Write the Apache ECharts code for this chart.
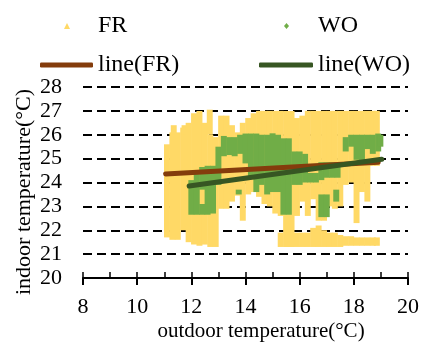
<!DOCTYPE html>
<html><head><meta charset="utf-8">
<script src="https://cdn.jsdelivr.net/npm/echarts@6/dist/echarts.min.js"></script>
<style>html,body{margin:0;padding:0;background:#fff}#c{width:427px;height:345px}</style>
</head><body><div id="c"></div>
<script>
// x-axis ticks and y-axis ticks
const xTicks = [8, 10, 12, 14, 16, 18, 20];
const yTicks = [20, 21, 22, 23, 24, 25, 26, 27, 28];
const seriesNames = ['FR', 'WO', 'line(FR)', 'line(WO)'];
const xTitle = 'outdoor temperature(°C)';
const yTitle = 'indoor temperature(°C)';

// FR scatter cloud, read as vertical streaks: [outdoor temp, lowest indoor, highest indoor]
const frStreaks = [
  [11.1, 21.7, 25.6], [11.3, 21.6, 26.1], [11.35, 26.0, 26.4], [11.5, 21.6, 26.1], [11.7, 22.0, 26.3],
  [11.75, 26.0, 26.4], [11.9, 21.5, 26.5], [12.1, 21.4, 26.9], [12.3, 21.35, 27.0], [12.5, 21.4, 26.5],
  [12.7, 21.3, 26.0], [12.68, 26.0, 27.05], [12.9, 21.3, 25.9], [13.1, 22.9, 26.8], [13.3, 22.9, 26.8],
  [13.5, 23.2, 26.4], [13.7, 23.45, 26.1], [13.9, 22.4, 26.5], [14.1, 23.5, 26.7],
  [14.3, 23.6, 26.9], [14.5, 23.4, 27.0], [14.7, 23.1, 27.0], [14.9, 23.0, 27.0],
  [15.1, 22.7, 27.0], [15.3, 22.6, 27.0], [15.3, 21.3, 21.9], [15.5, 21.3, 27.0],
  [15.7, 21.3, 27.0], [15.9, 22.6, 26.7], [15.9, 21.3, 21.9], [16.1, 23.2, 26.8],
  [16.1, 21.3, 21.9], [16.3, 22.6, 27.0], [16.3, 21.3, 21.9], [16.5, 23.3, 27.0],
  [16.5, 21.3, 22.1], [16.7, 22.4, 27.0], [16.7, 21.3, 22.2], [16.9, 22.4, 27.0],
  [16.9, 21.3, 22.0], [17.1, 23.0, 27.0], [17.1, 21.3, 21.9], [17.3, 22.9, 27.0],
  [17.3, 21.3, 21.9], [17.5, 23.0, 27.0], [17.5, 21.3, 21.8], [17.7, 23.9, 27.0],
  [17.7, 21.35, 21.75], [17.9, 24.0, 27.0], [17.9, 21.35, 21.75], [18.1, 22.3, 27.0],
  [18.1, 21.35, 21.7], [18.3, 23.6, 27.0], [18.3, 21.35, 21.7], [18.5, 23.2, 27.0],
  [18.5, 21.35, 21.7], [18.7, 24.7, 27.0], [18.7, 21.35, 21.7], [18.85, 24.7, 27.0],
  [18.85, 21.35, 21.7]
];

// WO scatter cloud, same reading
const woStreaks = [
  [12.0, 22.65, 24.1], [12.2, 22.65, 24.5], [12.4, 22.65, 23.1], [12.4, 23.7, 24.65],
  [12.6, 22.65, 24.7], [12.8, 22.7, 24.7], [13.0, 23.9, 25.5], [13.2, 25.1, 25.95],
  [13.4, 25.15, 25.9], [13.6, 25.1, 25.9], [13.8, 25.2, 26.0], [13.75, 23.5, 23.7],
  [14.0, 24.8, 26.05], [14.2, 24.2, 26.05], [14.4, 23.6, 26.05], [14.6, 23.9, 26.0],
  [14.8, 23.5, 26.0], [15.0, 23.6, 26.06], [15.2, 23.6, 26.0], [15.4, 22.65, 25.85],
  [15.6, 22.65, 25.85], [15.8, 23.9, 25.3], [16.0, 23.9, 25.3], [16.2, 24.0, 25.2],
  [16.4, 24.0, 24.4], [16.6, 24.0, 24.4], [16.8, 24.1, 24.85], [16.8, 22.55, 23.5],
  [17.0, 22.55, 23.5], [17.0, 24.2, 24.85], [17.2, 24.2, 24.85], [17.4, 24.2, 24.85],
  [17.35, 23.2, 23.7], [17.7, 25.3, 25.9], [17.9, 25.5, 26.0], [18.1, 24.95, 26.0],
  [18.3, 24.8, 26.0], [18.5, 25.4, 26.0], [18.7, 25.2, 26.0], [18.9, 25.3, 26.05],
  [18.98, 25.5, 26.0]
];

// linear trend lines (end points)
const frTrend = [[11.05, 24.36], [18.9, 24.85]];
const woTrend = [[11.92, 23.85], [19.03, 24.97]];

const FONT = "'Liberation Serif', 'Times New Roman', serif";
const chart = echarts.init(document.getElementById('c'), null, {renderer: 'canvas'});

function streakRenderer(params, api) {
  const x = api.value(0), lo = api.value(1), hi = api.value(2);
  const p1 = api.coord([x - 0.11, hi]);
  const p2 = api.coord([x + 0.11, lo]);
  return {
    type: 'rect',
    shape: {x: p1[0], y: p1[1], width: p2[0] - p1[0], height: p2[1] - p1[1]},
    style: {fill: api.visual('color')}
  };
}

const legendText = (pad) => ({fontSize: 24, fontFamily: FONT, color: '#000', padding: [0, 0, 0, pad]});

chart.setOption({
  animation: false,
  backgroundColor: '#fff',
  grid: {left: 83, right: 19, top: 87, bottom: 67},
  legend: [
    {data: [{name: seriesNames[0], icon: 'triangle'}], left: 64, top: 14, padding: 0, itemWidth: 6, itemHeight: 6, textStyle: legendText(23)},
    {data: [{name: seriesNames[1], icon: 'diamond'}], left: 284, top: 14, padding: 0, itemWidth: 5, itemHeight: 6, textStyle: legendText(24)},
    {data: [{name: seriesNames[2], icon: 'roundRect'}], left: 40, top: 53, padding: 0, itemWidth: 53, itemHeight: 5, textStyle: legendText(0)},
    {data: [{name: seriesNames[3], icon: 'roundRect'}], left: 259, top: 53, padding: 0, itemWidth: 54, itemHeight: 5, textStyle: legendText(0)}
  ],
  xAxis: [
    {type: 'value', min: xTicks[0], max: xTicks[xTicks.length - 1], interval: 2,
     axisLine: {lineStyle: {color: '#000', width: 2}},
     axisTick: {length: 7, lineStyle: {color: '#000', width: 2}},
     axisLabel: {color: '#000', fontSize: 22, fontFamily: FONT, margin: 18},
     splitLine: {show: false}},
    {type: 'value', min: xTicks[0], max: xTicks[xTicks.length - 1], interval: 1, position: 'bottom',
     axisLine: {show: false},
     axisTick: {inside: true, length: 6, lineStyle: {color: '#000', width: 1.5}},
     axisLabel: {show: false}, splitLine: {show: false}}
  ],
  yAxis: {type: 'value', min: yTicks[0], max: yTicks[yTicks.length - 1], interval: 1,
    axisLine: {show: false}, axisTick: {show: false},
    axisLabel: {color: '#000', fontSize: 22, fontFamily: FONT, margin: 21},
    splitLine: {lineStyle: {color: '#000', width: 2, type: [9, 5]}}},
  graphic: [
    {type: 'text', x: 261, y: 331, style: {text: xTitle, font: '21px ' + FONT, fill: '#000', textAlign: 'center', textVerticalAlign: 'middle'}},
    {type: 'text', x: 24, y: 192, rotation: Math.PI / 2, style: {text: yTitle, font: '22px ' + FONT, fill: '#000', textAlign: 'center', textVerticalAlign: 'middle'}}
  ],
  series: [
    {name: seriesNames[0], type: 'custom', renderItem: streakRenderer, data: frStreaks,
     encode: {x: 0, y: [1, 2]}, itemStyle: {color: '#FFD966'}, silent: true, z: 2},
    {name: seriesNames[1], type: 'custom', renderItem: streakRenderer, data: woStreaks,
     encode: {x: 0, y: [1, 2]}, itemStyle: {color: '#70AD47'}, silent: true, z: 3},
    {name: seriesNames[2], type: 'line', data: frTrend, symbol: 'none', color: '#843C0C',
     itemStyle: {color: '#843C0C'}, lineStyle: {width: 5, cap: 'round', color: '#843C0C'}, z: 4},
    {name: seriesNames[3], type: 'line', data: woTrend, symbol: 'none', color: '#375623',
     itemStyle: {color: '#375623'}, lineStyle: {width: 5, cap: 'round', color: '#375623'}, z: 5}
  ]
});
</script>
</body></html>
